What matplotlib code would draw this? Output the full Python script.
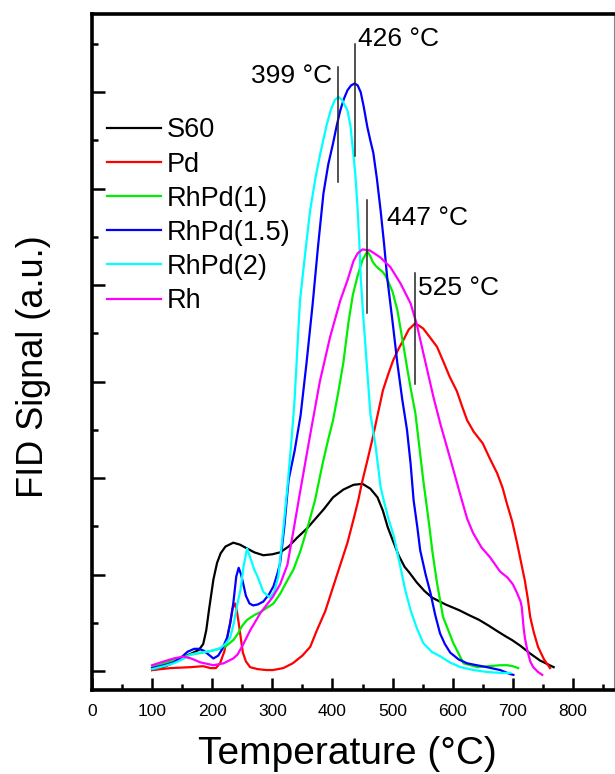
import matplotlib
matplotlib.use("Agg")
import matplotlib.pyplot as plt
import numpy as np
from matplotlib.ticker import MultipleLocator, NullFormatter

plt.rcParams["font.family"] = ["Liberation Sans", "DejaVu Sans"]

# H2-TPR curves (temperature in °C, FID signal in a.u.)
s60_t = [100, 114, 130, 147, 165, 178, 185, 190, 195, 202, 208, 214, 222, 235, 246,
         258, 270, 285, 300, 313, 327, 341, 358, 372, 386, 401, 418, 435, 450, 463,
         475, 484, 492, 500, 510, 520, 528, 540, 553, 566, 588, 611, 627, 644, 660,
         675, 688, 699, 713, 727, 745, 768]
s60_y = [0.01, 0.03, 0.07, 0.13, 0.18, 0.22, 0.28, 0.42, 0.65, 0.95, 1.12, 1.22, 1.29,
         1.33, 1.31, 1.27, 1.23, 1.20, 1.21, 1.23, 1.29, 1.38, 1.48, 1.58, 1.68, 1.80,
         1.88, 1.93, 1.94, 1.89, 1.80, 1.66, 1.49, 1.36, 1.20, 1.08, 1.02, 0.92, 0.83,
         0.76, 0.69, 0.63, 0.58, 0.53, 0.47, 0.41, 0.36, 0.32, 0.26, 0.19, 0.11, 0.04]

pd_t = [100, 130, 164, 185, 197, 206, 213, 220, 226, 230, 234, 238, 241, 244, 248,
        251, 256, 263, 275, 290, 301, 318, 334, 350, 363, 374, 388, 401, 413, 425,
        435, 443, 449, 458, 466, 475, 484, 493, 501, 510, 518, 527, 537, 544, 551,
        562, 574, 585, 595, 607, 617, 624, 635, 650, 662, 674, 683, 690, 699, 707,
        714, 720, 725, 729, 735, 742, 752, 762]
pd_y = [0.01, 0.03, 0.04, 0.05, 0.03, 0.03, 0.08, 0.20, 0.38, 0.50, 0.65, 0.70, 0.62,
        0.50, 0.32, 0.19, 0.10, 0.04, 0.02, 0.01, 0.01, 0.03, 0.08, 0.16, 0.25, 0.42,
        0.62, 0.87, 1.10, 1.33, 1.57, 1.77, 1.95, 2.18, 2.39, 2.65, 2.91, 3.08, 3.22,
        3.34, 3.43, 3.54, 3.60, 3.58, 3.55, 3.46, 3.36, 3.20, 3.05, 2.90, 2.72, 2.60,
        2.48, 2.36, 2.20, 2.05, 1.90, 1.74, 1.55, 1.33, 1.12, 0.94, 0.75, 0.56, 0.40,
        0.25, 0.12, 0.03]

rhpd1_t = [100, 120, 136, 164, 192, 219, 235, 242, 250, 258, 270, 280, 292, 302, 313,
           325, 335, 347, 360, 371, 384, 393, 401, 410, 418, 427, 434, 442, 450, 458,
           463, 467, 472, 477, 483, 488, 494, 500, 508, 516, 524, 531, 538, 545, 551,
           557, 562, 566, 570, 574, 584, 601, 618, 641, 660, 679, 691, 700, 709]
rhpd1_y = [0.04, 0.08, 0.11, 0.17, 0.20, 0.24, 0.32, 0.38, 0.47, 0.53, 0.58, 0.61,
           0.66, 0.70, 0.80, 0.94, 1.05, 1.25, 1.52, 1.77, 2.16, 2.40, 2.60, 2.90, 3.19,
           3.63, 3.90, 4.10, 4.26, 4.35, 4.30, 4.24, 4.20, 4.17, 4.14, 4.10, 4.02, 3.93,
           3.74, 3.45, 3.15, 2.90, 2.67, 2.30, 1.98, 1.70, 1.46, 1.25, 1.08, 0.91, 0.56,
           0.29, 0.08, 0.04, 0.05, 0.06, 0.06, 0.05, 0.03]

rhpd15_t = [100, 120, 136, 150, 159, 170, 178, 186, 192, 202, 210, 216, 225, 230, 235,
            240, 244, 248, 251, 256, 262, 268, 276, 285, 295, 302, 308, 313, 320, 327,
            337, 347, 357, 367, 376, 385, 393, 401, 407, 413, 419, 425, 431, 437, 442,
            447, 452, 458, 463, 468, 474, 480, 486, 491, 500, 508, 516, 524, 530, 535,
            541, 546, 555, 563, 571, 579, 587, 596, 610, 624, 640, 657, 679, 695, 701]
rhpd15_y = [0.03, 0.06, 0.09, 0.15, 0.20, 0.23, 0.23, 0.21, 0.18, 0.13, 0.16, 0.22,
            0.35, 0.50, 0.70, 0.98, 1.07, 1.00, 0.92, 0.78, 0.70, 0.68, 0.69, 0.72, 0.80,
            0.88, 1.00, 1.12, 1.50, 1.98, 2.28, 2.65, 3.20, 3.80, 4.40, 4.95, 5.25, 5.47,
            5.65, 5.81, 5.93, 6.02, 6.07, 6.09, 6.07, 6.00, 5.85, 5.64, 5.50, 5.37, 5.10,
            4.78, 4.42, 4.08, 3.62, 3.19, 2.82, 2.50, 2.15, 1.77, 1.50, 1.25, 1.00, 0.81,
            0.58, 0.39, 0.28, 0.19, 0.12, 0.08, 0.06, 0.04, 0.01, -0.03, -0.04]

rhpd2_t = [100, 120, 136, 150, 164, 178, 192, 205, 214, 222, 230, 236, 242, 247, 252,
           258, 263, 270, 276, 285, 296, 303, 310, 318, 325, 332, 337, 346, 355, 363,
           372, 380, 390, 397, 404, 410, 416, 425, 430, 433, 438, 442, 445, 447, 451,
           455, 463, 472, 480, 486, 493, 502, 513, 521, 530, 540, 551, 565, 580, 595,
           613, 635, 657, 680, 696]
rhpd2_y = [0.02, 0.05, 0.08, 0.12, 0.17, 0.19, 0.20, 0.22, 0.24, 0.28, 0.35, 0.50,
           0.70, 0.84, 1.08, 1.27, 1.18, 1.05, 0.97, 0.82, 0.76, 0.82, 0.98, 1.46, 1.90,
           2.40, 2.81, 3.84, 4.35, 4.78, 5.12, 5.37, 5.65, 5.81, 5.92, 5.95, 5.92, 5.81,
           5.65, 5.47, 5.15, 4.78, 4.40, 4.08, 3.70, 3.36, 2.67, 2.32, 1.91, 1.75, 1.58,
           1.40, 1.08, 0.84, 0.63, 0.45, 0.29, 0.20, 0.15, 0.09, 0.04, 0.01, -0.01,
           -0.02, -0.02]

rh_t = [100, 120, 136, 152, 165, 180, 202, 219, 235, 242, 251, 263, 280, 301, 313, 325,
        335, 346, 363, 379, 396, 413, 425, 435, 442, 450, 462, 479, 496, 513, 530, 540,
        551, 568, 580, 596, 613, 624, 634, 648, 662, 679, 691, 700, 707, 713, 715, 718,
        720, 724, 729, 734, 742, 749]
rh_y = [0.06, 0.10, 0.13, 0.15, 0.13, 0.09, 0.06, 0.08, 0.13, 0.17, 0.27, 0.42, 0.60,
        0.77, 0.90, 1.10, 1.45, 1.85, 2.45, 3.00, 3.46, 3.84, 4.05, 4.25, 4.33, 4.37,
        4.36, 4.29, 4.19, 4.02, 3.81, 3.60, 3.30, 2.84, 2.55, 2.20, 1.82, 1.58, 1.43,
        1.28, 1.18, 1.03, 0.97, 0.90, 0.81, 0.72, 0.66, 0.45, 0.35, 0.22, 0.10, 0.04,
        -0.01, -0.04]

labels = ["S60", "Pd", "RhPd(1)", "RhPd(1.5)", "RhPd(2)", "Rh"]
colors = ["#000000", "#ff0000", "#00ee00", "#0000ff", "#00ffff", "#ff00ff"]
series = [(s60_t, s60_y), (pd_t, pd_y), (rhpd1_t, rhpd1_y),
          (rhpd15_t, rhpd15_y), (rhpd2_t, rhpd2_y), (rh_t, rh_y)]

# peak markers: label text, series whose maximum is marked
peak_labels = ["399 °C", "426 °C", "447 °C", "525 °C"]
peak_series = [4, 3, 2, 1]
# marker line extent (below, above the peak) and label offset (dT, dy) from the peak
peak_span = [(-0.88, 0.31), (-0.75, 0.41), (-0.64, 0.53), (-0.63, 0.53)]
label_off = [(-10, 0.22), (6, 0.46), (32, 0.35), (6, 0.37)]

fig = plt.figure(figsize=(6.15, 7.74), dpi=100)
ax = fig.add_axes([0.1496, 0.1085, 0.8484, 0.8734])

for (t, y), lab, c in zip(series, labels, colors):
    ax.plot(t, y, color=c, lw=1.6, label=lab)

for text, idx, (lo, hi), (dx, dy) in zip(peak_labels, peak_series, peak_span, label_off):
    t, y = series[idx]
    k = int(np.argmax(y))
    px, py = t[k], y[k]
    ax.plot([px, px], [py + lo, py + hi], color="#222222", lw=1.1)
    ax.text(px + dx, py + dy, text, ha="right" if dx < 0 else "left",
            va="center", fontsize=19)

ax.set_xlim(0, 868)
ax.set_ylim(-0.197, 6.81)
ax.xaxis.set_major_locator(MultipleLocator(100))
ax.xaxis.set_minor_locator(MultipleLocator(50))
ax.yaxis.set_major_locator(MultipleLocator(1))
ax.yaxis.set_minor_locator(MultipleLocator(0.5))
ax.yaxis.set_major_formatter(NullFormatter())
ax.tick_params(which="both", direction="in", width=1.8, top=False, right=False)
ax.tick_params(which="major", length=9, labelsize=12.5, pad=10)
ax.tick_params(which="minor", length=4.5)

for side in ["left", "bottom", "top"]:
    ax.spines[side].set_linewidth(2.6)
ax.spines["right"].set_linewidth(0.8)
ax.spines["right"].set_color("#888888")

ax.set_xlabel("Temperature (°C)", fontsize=28)
ax.xaxis.set_label_coords(0.49, -0.0947)
ax.xaxis.label.set_va("center")
ax.set_ylabel("FID Signal (a.u.)", fontsize=26)
ax.yaxis.set_label_coords(-0.113, 0.478)
ax.yaxis.label.set_va("center")

ax.legend(loc="upper left", bbox_to_anchor=(0.0287, 0.847), frameon=False,
          fontsize=19.5, handlelength=2.0, handletextpad=0.2, labelspacing=0.3,
          borderpad=0.0, borderaxespad=0.0)

fig.savefig("out.png", dpi=100)
